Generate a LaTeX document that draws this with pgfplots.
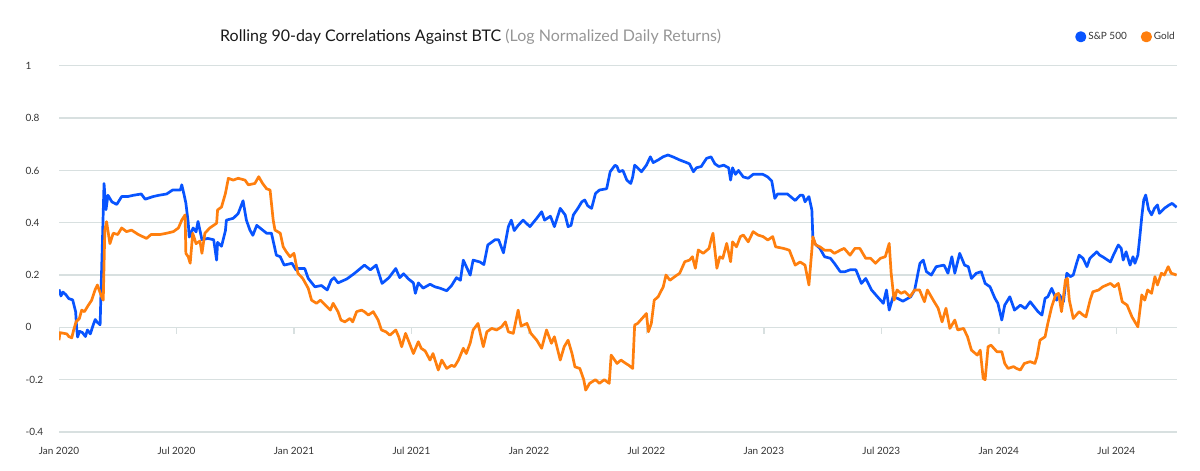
\documentclass[border=0pt]{standalone}
\usepackage{fontspec}
\setmainfont{Lato}
\usepackage{pgfplots}
\pgfplotsset{compat=1.18}
\definecolor{spblue}{RGB}{8,84,255}
\definecolor{goldor}{RGB}{255,127,14}
\definecolor{gridc}{RGB}{216,224,224}
\definecolor{tickc}{RGB}{51,51,51}
\definecolor{titlec}{RGB}{25,25,25}
\definecolor{titlegray}{RGB}{150,150,150}
\begin{document}
\begin{tikzpicture}[x=1pt,y=1pt]
\path[use as bounding box] (0,0) rectangle (1200,471);
\node[anchor=base west, font=\fontsize{16}{19}\selectfont, inner sep=0pt, text=titlec] at (220,429) {Rolling 90-day Correlations Against BTC \textcolor{titlegray}{(Log Normalized Daily Returns)}};
\begin{axis}[
 at={(59pt,39pt)}, anchor=south west,
 scale only axis, width=1118pt, height=366.2pt,
 xmin=0, xmax=57.1, ymin=-0.4, ymax=1,
 axis line style={draw=none},
 ytick={-0.4,-0.2,0,0.2,0.4,0.6,0.8,1},
 yticklabels={-0.4,-0.2,0,0.2,0.4,0.6,0.8,1},
 xtick={0,6,12,18,24,30,36,42,48,54},
 xticklabels={Jan 2020,Jul 2020,Jan 2021,Jul 2021,Jan 2022,Jul 2022,Jan 2023,Jul 2023,Jan 2024,Jul 2024},
 major tick length=0pt,
 ymajorgrids, grid style={gridc, line width=1.3pt},
 tick label style={font=\fontsize{10}{12}\selectfont, text=tickc},
 yticklabel style={anchor=west, xshift=-37pt},
 xticklabel style={anchor=north, yshift=-12pt},
 legend style={at={(1,1)}, anchor=east, yshift=29pt, draw=none, fill=none, inner sep=0pt,
   font=\fontsize{10}{12}\selectfont, text=tickc, legend columns=2,
   /tikz/every even column/.append style={column sep=12pt}},
 legend image code/.code={\fill[#1] (3pt,0pt) circle (4.2pt);},
]
\pgfplotsinvokeforeach{0,6,12,18,24,30,36,42,48,54}{\draw[gridc, line width=1.3pt] (axis cs:#1,0) -- ([yshift=-7pt]axis cs:#1,0);}
\addplot[spblue, line width=2.7pt, line join=round] coordinates {
(0.0,0.145)(0.1,0.12)(0.2,0.135)(0.35,0.125)(0.5,0.11)(0.7,0.105)(0.85,0.06)(0.9,0.0)(0.95,-0.037)
(1.05,-0.015)(1.2,-0.02)(1.35,-0.035)(1.45,-0.01)(1.6,-0.025)(1.75,0.01)(1.85,0.03)(1.95,0.02)(2.1,0.01)
(2.15,0.15)(2.2,0.28)(2.3,0.55)(2.4,0.45)(2.5,0.505)(2.7,0.48)(2.95,0.47)(3.2,0.5)(3.5,0.5)(3.8,0.505)
(4.2,0.51)(4.4,0.49)(4.8,0.5)(5.1,0.505)(5.5,0.51)(5.8,0.525)(6.2,0.525)(6.27,0.545)(6.38,0.51)(6.48,0.475)
(6.6,0.4)(6.65,0.345)(6.85,0.38)(7.0,0.365)(7.1,0.405)(7.2,0.37)(7.3,0.335)(7.6,0.34)(7.9,0.335)(8.05,0.257)
(8.1,0.325)(8.3,0.31)(8.5,0.37)(8.55,0.41)(8.9,0.417)(9.15,0.435)(9.4,0.484)(9.57,0.41)(9.75,0.372)(9.9,0.352)
(10.1,0.39)(10.4,0.372)(10.6,0.36)(10.85,0.36)(11.0,0.31)(11.1,0.276)(11.3,0.27)(11.5,0.238)(11.9,0.245)
(12.1,0.22)(12.2,0.225)(12.55,0.225)(12.73,0.187)(13.07,0.155)(13.4,0.16)(13.7,0.143)(13.9,0.18)(14.05,0.19)
(14.25,0.17)(14.7,0.185)(15.1,0.207)(15.6,0.238)(15.9,0.22)(16.2,0.238)(16.5,0.168)(16.85,0.19)(17.2,0.225)
(17.4,0.19)(17.6,0.205)(17.85,0.185)(18.1,0.17)(18.2,0.13)(18.35,0.17)(18.6,0.15)(18.95,0.165)(19.2,0.155)
(19.45,0.15)(19.8,0.14)(20.05,0.16)(20.3,0.19)(20.5,0.18)(20.65,0.257)(21.0,0.2)(21.15,0.257)(21.5,0.25)
(21.7,0.24)(21.9,0.315)(22.27,0.335)(22.45,0.335)(22.7,0.285)(22.95,0.385)(23.1,0.41)(23.25,0.37)(23.45,0.39)
(23.7,0.41)(24.05,0.385)(24.4,0.417)(24.65,0.442)(24.8,0.41)(25.1,0.425)(25.3,0.385)(25.6,0.455)(25.85,0.43)
(26.0,0.385)(26.15,0.39)(26.27,0.43)(26.5,0.455)(26.7,0.48)(26.85,0.487)(27.0,0.465)(27.2,0.455)(27.4,0.512)
(27.6,0.525)(27.97,0.53)(28.15,0.595)(28.4,0.62)(28.5,0.615)(28.6,0.595)(28.8,0.6)(29.0,0.563)(29.2,0.55)
(29.3,0.575)(29.4,0.62)(29.55,0.61)(29.75,0.595)(30.0,0.62)(30.2,0.652)(30.35,0.63)(30.6,0.64)(30.85,0.652)
(31.1,0.659)(31.35,0.652)(31.7,0.64)(32.05,0.63)(32.2,0.625)(32.4,0.595)(32.55,0.61)(32.8,0.615)(33.07,0.646)
(33.3,0.652)(33.5,0.625)(33.7,0.615)(33.95,0.62)(34.2,0.61)(34.3,0.563)(34.4,0.61)(34.55,0.585)(34.7,0.6)
(34.95,0.575)(35.2,0.57)(35.45,0.585)(35.7,0.585)(35.95,0.585)(36.2,0.575)(36.4,0.56)(36.56,0.493)(36.7,0.51)
(37.0,0.51)(37.2,0.51)(37.6,0.485)(37.85,0.505)(38.0,0.505)(38.1,0.48)(38.3,0.5)(38.45,0.449)(38.5,0.346)
(38.6,0.32)(38.86,0.302)(39.1,0.27)(39.4,0.264)(39.6,0.245)(39.9,0.213)(40.15,0.213)(40.4,0.22)(40.7,0.22)
(40.98,0.168)(41.2,0.187)(41.5,0.143)(41.8,0.117)(42.1,0.092)(42.26,0.143)(42.4,0.066)(42.6,0.117)(42.85,0.11)
(43.1,0.10)(43.5,0.117)(43.7,0.143)(43.97,0.245)(44.14,0.257)(44.3,0.213)(44.55,0.2)(44.8,0.232)(45.2,0.238)
(45.4,0.207)(45.6,0.27)(45.75,0.207)(46.0,0.283)(46.25,0.238)(46.44,0.232)(46.6,0.187)(46.85,0.207)(47.1,0.213)
(47.3,0.168)(47.55,0.155)(47.8,0.111)(47.95,0.092)(48.15,0.028)(48.3,0.085)(48.56,0.117)(48.8,0.066)(49.1,0.085)
(49.35,0.072)(49.6,0.098)(49.8,0.079)(50.0,0.06)(50.2,0.047)(50.36,0.111)(50.5,0.117)(50.7,0.149)(50.95,0.104)
(51.1,0.124)(51.3,0.098)(51.47,0.207)(51.65,0.194)(51.8,0.2)(51.97,0.245)(52.1,0.276)(52.3,0.264)(52.5,0.232)
(52.65,0.264)(53.0,0.289)(53.15,0.276)(53.3,0.27)(53.7,0.25)(53.85,0.276)(54.1,0.315)(54.25,0.302)(54.35,0.257)
(54.5,0.289)(54.7,0.238)(54.85,0.27)(54.95,0.245)(55.1,0.276)(55.2,0.346)(55.3,0.423)(55.4,0.487)(55.5,0.506)
(55.65,0.45)(55.8,0.43)(55.95,0.455)(56.1,0.468)(56.2,0.436)(56.45,0.455)(56.7,0.468)(56.85,0.474)(57.08,0.459)
};
\addlegendentry{S\&P 500}
\addplot[goldor, line width=2.7pt, line join=round] coordinates {
(0.0,-0.049)(0.05,-0.02)(0.4,-0.025)(0.5,-0.035)(0.65,-0.04)(0.75,-0.01)(0.87,0.021)(1.04,0.034)(1.16,0.066)
(1.3,0.06)(1.5,0.085)(1.67,0.104)(1.84,0.143)(1.96,0.162)(2.05,0.143)(2.18,0.117)(2.26,0.104)(2.34,0.372)
(2.43,0.404)(2.6,0.32)(2.77,0.36)(3.0,0.355)(3.2,0.38)(3.45,0.366)(3.7,0.372)(4.05,0.355)(4.47,0.34)(4.7,0.355)
(5.16,0.355)(5.5,0.36)(5.84,0.366)(6.1,0.38)(6.27,0.41)(6.44,0.43)(6.48,0.283)(6.6,0.27)(6.7,0.245)(6.83,0.36)
(7.0,0.32)(7.2,0.33)(7.3,0.283)(7.45,0.36)(7.7,0.38)(8.05,0.398)(8.1,0.449)(8.3,0.46)(8.5,0.512)(8.65,0.57)
(8.9,0.563)(9.15,0.57)(9.5,0.563)(9.67,0.545)(10.0,0.55)(10.2,0.576)(10.4,0.55)(10.6,0.53)(10.78,0.525)
(10.94,0.41)(11.03,0.372)(11.3,0.36)(11.45,0.308)(11.6,0.29)(11.8,0.27)(12.0,0.283)(12.2,0.207)(12.45,0.187)
(12.73,0.149)(12.9,0.104)(13.15,0.092)(13.35,0.104)(13.6,0.085)(13.86,0.066)(14.0,0.092)(14.25,0.06)(14.4,0.028)
(14.6,0.021)(14.86,0.034)(15.0,0.021)(15.2,0.06)(15.45,0.066)(15.6,0.06)(15.8,0.047)(16.05,0.06)(16.3,0.028)
(16.47,-0.01)(16.7,-0.017)(16.9,-0.03)(17.2,-0.01)(17.35,-0.036)(17.5,-0.074)(17.7,-0.023)(17.9,-0.061)(18.1,-0.1)
(18.35,-0.055)(18.5,-0.08)(18.7,-0.09)(18.95,-0.125)(19.1,-0.1)(19.37,-0.163)(19.55,-0.125)(19.8,-0.157)
(20.05,-0.145)(20.2,-0.15)(20.4,-0.125)(20.65,-0.08)(20.8,-0.1)(21.0,-0.06)(21.15,-0.01)(21.4,0.015)(21.67,-0.074)
(21.85,-0.017)(22.1,-0.004)(22.35,-0.01)(22.6,0.002)(22.8,0.021)(22.95,-0.017)(23.2,-0.023)(23.45,0.066)
(23.6,0.005)(23.9,0.015)(24.1,-0.023)(24.4,-0.049)(24.65,-0.08)(24.9,-0.01)(25.15,-0.061)(25.3,-0.036)
(25.6,-0.125)(25.8,-0.074)(26.0,-0.049)(26.2,-0.1)(26.35,-0.151)(26.6,-0.157)(26.8,-0.2)(26.9,-0.24)(27.1,-0.214)
(27.4,-0.2)(27.6,-0.214)(27.85,-0.2)(28.1,-0.214)(28.2,-0.106)(28.5,-0.138)(28.7,-0.125)(28.95,-0.138)
(29.1,-0.145)(29.3,-0.157)(29.4,0.009)(29.55,0.015)(29.85,0.04)(30.0,0.053)(30.1,-0.017)(30.25,0.015)(30.4,0.104)
(30.6,0.117)(30.86,0.155)(31.0,0.2)(31.2,0.18)(31.45,0.194)(31.7,0.207)(31.96,0.251)(32.2,0.257)(32.35,0.27)
(32.5,0.226)(32.65,0.296)(32.9,0.283)(33.2,0.302)(33.3,0.334)(33.4,0.36)(33.6,0.226)(33.75,0.27)(33.9,0.264)
(34.1,0.321)(34.3,0.251)(34.4,0.327)(34.6,0.308)(34.8,0.347)(34.95,0.353)(35.2,0.327)(35.45,0.366)(35.7,0.353)
(35.96,0.347)(36.2,0.334)(36.45,0.347)(36.6,0.308)(37.0,0.302)(37.3,0.295)(37.6,0.238)(37.85,0.25)(38.1,0.238)
(38.3,0.162)(38.45,0.296)(38.5,0.346)(38.65,0.315)(38.86,0.308)(39.1,0.295)(39.4,0.295)(39.6,0.283)(39.9,0.295)
(40.1,0.302)(40.4,0.276)(40.65,0.302)(40.9,0.302)(41.2,0.264)(41.45,0.264)(41.7,0.245)(41.95,0.264)(42.2,0.27)
(42.4,0.321)(42.5,0.207)(42.65,0.104)(42.8,0.143)(43.0,0.13)(43.2,0.137)(43.46,0.117)(43.7,0.143)(43.95,0.143)
(44.2,0.098)(44.35,0.143)(44.65,0.104)(44.9,0.073)(45.1,0.021)(45.3,0.073)(45.5,-0.004)(45.75,0.028)(45.9,-0.01)
(46.2,-0.004)(46.4,-0.036)(46.6,-0.087)(46.9,-0.106)(47.05,-0.087)(47.2,-0.195)(47.3,-0.2)(47.45,-0.074)
(47.6,-0.068)(47.9,-0.093)(48.15,-0.093)(48.3,-0.138)(48.47,-0.157)(48.75,-0.15)(48.9,-0.157)(49.1,-0.163)
(49.3,-0.138)(49.6,-0.131)(49.84,-0.138)(49.95,-0.112)(50.1,-0.049)(50.36,-0.036)(50.5,0.015)(50.7,0.079)
(50.9,0.124)(51.05,0.13)(51.2,0.06)(51.3,0.117)(51.4,0.181)(51.5,0.187)(51.6,0.104)(51.8,0.034)(52.1,0.06)
(52.3,0.047)(52.45,0.04)(52.66,0.104)(52.8,0.136)(53.1,0.143)(53.3,0.155)(53.7,0.168)(53.9,0.155)(54.1,0.168)
(54.3,0.098)(54.55,0.085)(54.8,0.04)(54.95,0.021)(55.1,0.002)(55.3,0.124)(55.45,0.104)(55.6,0.143)(55.8,0.13)
(55.97,0.194)(56.1,0.162)(56.3,0.207)(56.45,0.2)(56.65,0.232)(56.8,0.207)(57.08,0.2)
};
\addlegendentry{Gold}
\end{axis}
\end{tikzpicture}
\end{document}
